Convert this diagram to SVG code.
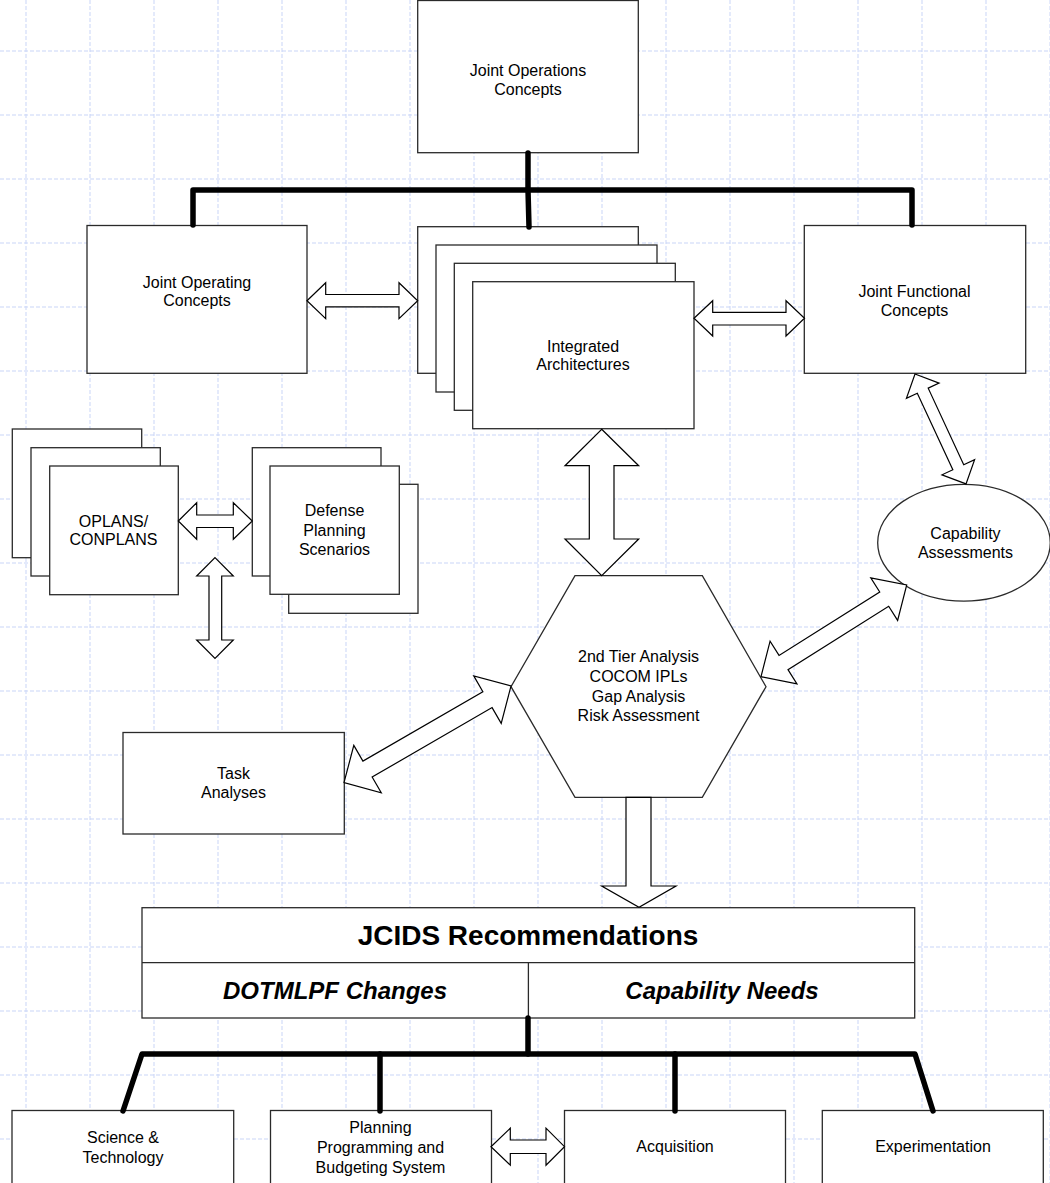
<svg xmlns="http://www.w3.org/2000/svg" width="1050" height="1183" viewBox="0 0 1050 1183">
<style>
.grid line{stroke:#c9d5f7;stroke-width:1;stroke-dasharray:4 2}
.box{fill:#fff;stroke:#2a2a2a;stroke-width:1.3}
.t{font-family:"Liberation Sans",Arial,sans-serif;font-size:16px;fill:#000;text-anchor:middle}
.tb{font-family:"Liberation Sans",Arial,sans-serif;font-weight:bold;fill:#000;text-anchor:middle}
.arr{fill:#fff;stroke:#000;stroke-width:1.2;stroke-linejoin:miter}
.bar{fill:none;stroke:#000;stroke-width:5.5;stroke-linecap:round;stroke-linejoin:round}
</style>
<defs>
<path id="dbl6" d="M0,0 L27.2,-27.4 L27.2,-9.2 L165.8,-9.2 L165.8,-27.4 L193,0 L165.8,27.4 L165.8,9.2 L27.2,9.2 L27.2,27.4 Z"/>
</defs>
<rect width="1050" height="1183" fill="#fff"/>
<g class="grid">
<line x1="26" y1="0" x2="26" y2="1183"/><line x1="90" y1="0" x2="90" y2="1183"/><line x1="154" y1="0" x2="154" y2="1183"/><line x1="218" y1="0" x2="218" y2="1183"/><line x1="282" y1="0" x2="282" y2="1183"/><line x1="346" y1="0" x2="346" y2="1183"/><line x1="410" y1="0" x2="410" y2="1183"/><line x1="474" y1="0" x2="474" y2="1183"/><line x1="538" y1="0" x2="538" y2="1183"/><line x1="602" y1="0" x2="602" y2="1183"/><line x1="666" y1="0" x2="666" y2="1183"/><line x1="730" y1="0" x2="730" y2="1183"/><line x1="794" y1="0" x2="794" y2="1183"/><line x1="858" y1="0" x2="858" y2="1183"/><line x1="922" y1="0" x2="922" y2="1183"/><line x1="986" y1="0" x2="986" y2="1183"/><line x1="1050" y1="0" x2="1050" y2="1183"/>
<line x1="0" y1="51" x2="1050" y2="51"/><line x1="0" y1="115" x2="1050" y2="115"/><line x1="0" y1="179" x2="1050" y2="179"/><line x1="0" y1="243" x2="1050" y2="243"/><line x1="0" y1="307" x2="1050" y2="307"/><line x1="0" y1="371" x2="1050" y2="371"/><line x1="0" y1="435" x2="1050" y2="435"/><line x1="0" y1="499" x2="1050" y2="499"/><line x1="0" y1="563" x2="1050" y2="563"/><line x1="0" y1="627" x2="1050" y2="627"/><line x1="0" y1="691" x2="1050" y2="691"/><line x1="0" y1="755" x2="1050" y2="755"/><line x1="0" y1="819" x2="1050" y2="819"/><line x1="0" y1="883" x2="1050" y2="883"/><line x1="0" y1="947" x2="1050" y2="947"/><line x1="0" y1="1011" x2="1050" y2="1011"/><line x1="0" y1="1075" x2="1050" y2="1075"/><line x1="0" y1="1139" x2="1050" y2="1139"/>
</g>

<g id="joint-operations-concepts">
<rect class="box" x="417.7" y="0.5" width="220.6" height="152.2"/>
<text class="t" x="528" y="75.5">Joint Operations</text>
<text class="t" x="528" y="94.5">Concepts</text>
</g>

<g id="joint-operating-concepts">
<rect class="box" x="87" y="225.5" width="220" height="147.8"/>
<text class="t" x="197" y="287.5">Joint Operating</text>
<text class="t" x="197" y="306">Concepts</text>
</g>

<g id="integrated-architectures">
<rect class="box" x="417.7" y="226.7" width="220.6" height="146.6"/>
<rect class="box" x="436" y="245" width="221" height="147"/>
<rect class="box" x="454.3" y="263.3" width="221" height="147"/>
<rect class="box" x="472.7" y="281.7" width="221.3" height="147"/>
<text class="t" x="583" y="351.5">Integrated</text>
<text class="t" x="583" y="370">Architectures</text>
</g>

<g id="joint-functional-concepts">
<rect class="box" x="804.3" y="225.5" width="221.4" height="147.8"/>
<text class="t" x="914.5" y="297">Joint Functional</text>
<text class="t" x="914.5" y="315.5">Concepts</text>
</g>

<g id="oplans-conplans">
<rect class="box" x="12.3" y="429" width="129.4" height="128.7"/>
<rect class="box" x="31" y="447.7" width="129.3" height="128.3"/>
<rect class="box" x="49.7" y="466" width="128.6" height="128.7"/>
<text class="t" x="113.5" y="526.5">OPLANS/</text>
<text class="t" x="113.5" y="545">CONPLANS</text>
</g>

<g id="defense-planning-scenarios">
<rect class="box" x="252.3" y="447.7" width="128.7" height="128.3"/>
<rect class="box" x="288.7" y="484.3" width="129.3" height="129"/>
<rect class="box" x="270" y="466" width="129.3" height="128.3"/>
<text class="t" x="334.5" y="515.5">Defense</text>
<text class="t" x="334.5" y="535.5">Planning</text>
<text class="t" x="334.5" y="554.5">Scenarios</text>
</g>

<g id="capability-assessments">
<ellipse class="box" cx="964" cy="542.7" rx="86.3" ry="58.4"/>
<text class="t" x="965.5" y="538.5">Capability</text>
<text class="t" x="965.5" y="558">Assessments</text>
</g>

<g id="analysis-hexagon">
<polygon class="box" points="575,575.7 702.3,575.7 766,686.7 702.3,797.3 575,797.3 511,686.7"/>
<text class="t" x="638.5" y="662">2nd Tier Analysis</text>
<text class="t" x="638.5" y="682">COCOM IPLs</text>
<text class="t" x="638.5" y="702">Gap Analysis</text>
<text class="t" x="638.5" y="721">Risk Assessment</text>
</g>

<g id="task-analyses">
<rect class="box" x="123" y="732.5" width="221.3" height="101.5"/>
<text class="t" x="233.5" y="778.5">Task</text>
<text class="t" x="233.5" y="797.5">Analyses</text>
</g>

<g id="jcids-recommendations">
<rect class="box" x="142" y="907.7" width="772.7" height="110.3"/>
<line x1="142" y1="962.7" x2="914.7" y2="962.7" stroke="#2a2a2a" stroke-width="1.3"/>
<line x1="528.4" y1="962.7" x2="528.4" y2="1018" stroke="#2a2a2a" stroke-width="1.3"/>
<text class="tb" x="528" y="945" font-size="28">JCIDS Recommendations</text>
<text class="tb" x="335" y="998.5" font-size="24" font-style="italic">DOTMLPF Changes</text>
<text class="tb" x="722" y="998.5" font-size="24" font-style="italic">Capability Needs</text>
</g>

<g id="science-technology">
<rect class="box" x="12" y="1110.5" width="221.7" height="80"/>
<text class="t" x="123" y="1142.5">Science &amp;</text>
<text class="t" x="123" y="1162.5">Technology</text>
</g>

<g id="ppbs">
<rect class="box" x="270.5" y="1110.5" width="221" height="80"/>
<text class="t" x="380.5" y="1132.5">Planning</text>
<text class="t" x="380.5" y="1152.5">Programming and</text>
<text class="t" x="380.5" y="1172.5">Budgeting System</text>
</g>

<g id="acquisition">
<rect class="box" x="564.5" y="1110.5" width="221" height="80"/>
<text class="t" x="675" y="1152">Acquisition</text>
</g>

<g id="experimentation">
<rect class="box" x="822.3" y="1110.5" width="221" height="80"/>
<text class="t" x="933" y="1152">Experimentation</text>
</g>

<g id="connectors">
<polyline class="bar" points="528,153 528,190"/>
<polyline class="bar" points="193,225 193,190 912,190 912,225"/>
<polyline class="bar" points="528,190 529,227"/>
<polyline class="bar" points="528,1018 528,1054"/>
<polyline class="bar" points="123,1111 142,1054 915,1054 933,1111"/>
<polyline class="bar" points="380,1054 380,1111"/>
<polyline class="bar" points="675,1054 675,1111"/>

<polygon class="arr" points="307,300.7 325.7,282.7 325.7,294.5 399,294.5 399,282.7 417.7,300.7 399,318.7 399,306.9 325.7,306.9 325.7,318.7"/>
<polygon class="arr" points="694,318.3 712.7,300.7 712.7,312.3 786,312.3 786,300.7 804.5,318.3 786,336 786,325 712.7,325 712.7,336"/>
<polygon class="arr" points="601.7,429.3 638.7,465.7 614,465.7 614,539 638.7,539 601.7,575.7 565,539 589.3,539 589.3,465.7 565,465.7"/>
<polygon class="arr" points="178.3,521 196.7,502.7 196.7,515 233.3,515 233.3,502.7 252.3,521 233.3,539.3 233.3,527.5 196.7,527.5 196.7,539.3"/>
<polygon class="arr" points="215,557.7 233.3,576 221.7,576 221.7,640 233.3,640 215,658.3 196.7,640 209,640 209,576 196.7,576"/>
<path class="arr" transform="translate(344,782.7) rotate(-30.07)" d="M0,0 L27.2,-27.4 L27.2,-9.2 L165.8,-9.2 L165.8,-27.4 L193,0 L165.8,27.4 L165.8,9.2 L27.2,9.2 L27.2,27.4 Z"/>
<path class="arr" transform="translate(761,676.7) rotate(-32.2)" d="M0,0 L26.6,-25.2 L26.6,-8.4 L145.6,-8.4 L145.6,-25.2 L172.2,0 L145.6,25.2 L145.6,8.4 L26.6,8.4 L26.6,25.2 Z"/>
<path class="arr" transform="translate(915,374) rotate(65.1)" d="M0,0 L18.4,-18 L18.4,-6 L102.8,-6 L102.8,-18 L121.2,0 L102.8,18 L102.8,6 L18.4,6 L18.4,18 Z"/>
<polygon class="arr" points="626,797.3 651,797.3 651,886 676,886 639,907.3 601.7,886 626,886"/>
<polygon class="arr" points="491,1146.7 510.3,1128.2 510.3,1140 546,1140 546,1128.2 564.5,1146.7 546,1165.2 546,1153.5 510.3,1153.5 510.3,1165.2"/>
</g>
</svg>
